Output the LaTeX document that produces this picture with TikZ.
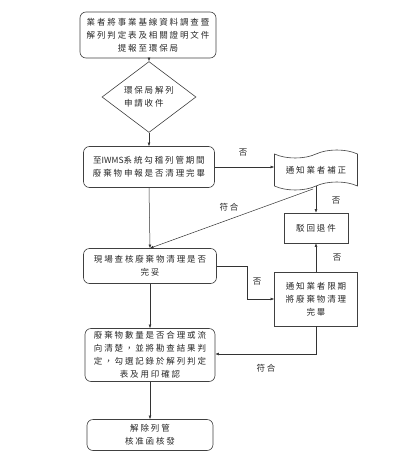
\documentclass[tikz,border=0pt]{standalone}
\usepackage{fontspec}
\setmainfont{Noto Sans CJK TC}[LetterSpace=22]
\newfontfamily\tightfont{Noto Sans CJK TC}
\usetikzlibrary{arrows.meta,shapes.geometric,shapes.symbols}
\tikzset{
  txt/.style={font=\fontsize{8.5}{13}\selectfont, text=black!85, align=center, inner sep=0pt},
  rbox/.style={txt, draw=black!75, line width=0.6pt, rounded corners=6pt},
  sbox/.style={txt, draw=black!75, line width=0.6pt},
  conn/.style={draw=black!80, line width=0.5pt, -{Latex[length=3.5pt,width=2.8pt]}},
  lab/.style={font=\fontsize{8.5}{10}\selectfont, text=black!85, inner sep=0pt}
}
\begin{document}
\begin{tikzpicture}[x=1pt,y=-1pt]
\useasboundingbox (0,0) rectangle (417,455);
\node[rbox, minimum width=136pt, minimum height=46pt] (b1) at (148,35) {業者將事業基線資料調查暨\\解列判定表及相關證明文件\\提報至環保局};
\node[txt, draw=black!75, line width=0.6pt, diamond, minimum width=94pt, minimum height=57pt, align=left] (d1) at (149,97) {環保局解列\\申請收件};
\node[rbox, minimum width=131pt, minimum height=41pt] (b2) at (149,167) {至{\tightfont IWMS}系統勾稽列管期間\\廢棄物申報是否清理完畢};
\node[txt, draw=black!75, line width=0.6pt, tape, tape bend top=in and out, tape bend bottom=in and out, tape bend height=8pt, minimum width=83pt, minimum height=40pt] (w1) at (316,170) {通知業者補正};
\node[sbox, minimum width=64pt, minimum height=30pt] (r1) at (316,228) {駁回退件};
\node[rbox, minimum width=133pt, minimum height=35pt] (b3) at (150,266) {現場查核廢棄物清理是否\\完妥};
\node[sbox, minimum width=83pt, minimum height=54pt] (r2) at (316,299) {通知業者限期\\將廢棄物清理\\完畢};
\node[rbox, minimum width=130pt, minimum height=53pt] (b4) at (150,355) {廢棄物數量是否合理或流\\向清楚，並將勘查結果判\\定，勾選記錄於解列判定\\表及用印確認};
\node[rbox, minimum width=126pt, minimum height=31pt] (b5) at (150,435) {解除列管\\核准函核發};
\coordinate (c1) at (247,266);
\coordinate (c2) at (316,354);
\coordinate (c3) at (313,189);
\draw[conn] (b1.south -| d1.north) -- (d1.north);
\draw[conn] (d1.south) -- (b2.north -| d1.south);
\draw[conn] (b2.east) -- (b2.east -| w1.west);
\draw[conn] (w1.south) -- (r1.north);
\draw[conn] (c3) -- (b3.north);
\draw[conn] (b2.south) -- (b3.north);
\draw[conn] (b3.east) -- (c1) |- (r2.west);
\draw[conn] (r2.north) -- (r1.south);
\draw[conn] (r2.south) -- (c2) -- (c2 -| b4.east);
\draw[conn] (b3.south) -- (b4.north);
\draw[conn] (b4.south) -- (b5.north);
\node[lab] (l1) at (243,153) {否};
\node[lab] (l2) at (336,201) {否};
\node[lab] (l3) at (229,207) {符合};
\node[lab] (l4) at (257,282) {否};
\node[lab] (l5) at (337,258) {否};
\node[lab] (l6) at (266,368) {符合};
\end{tikzpicture}
\end{document}
